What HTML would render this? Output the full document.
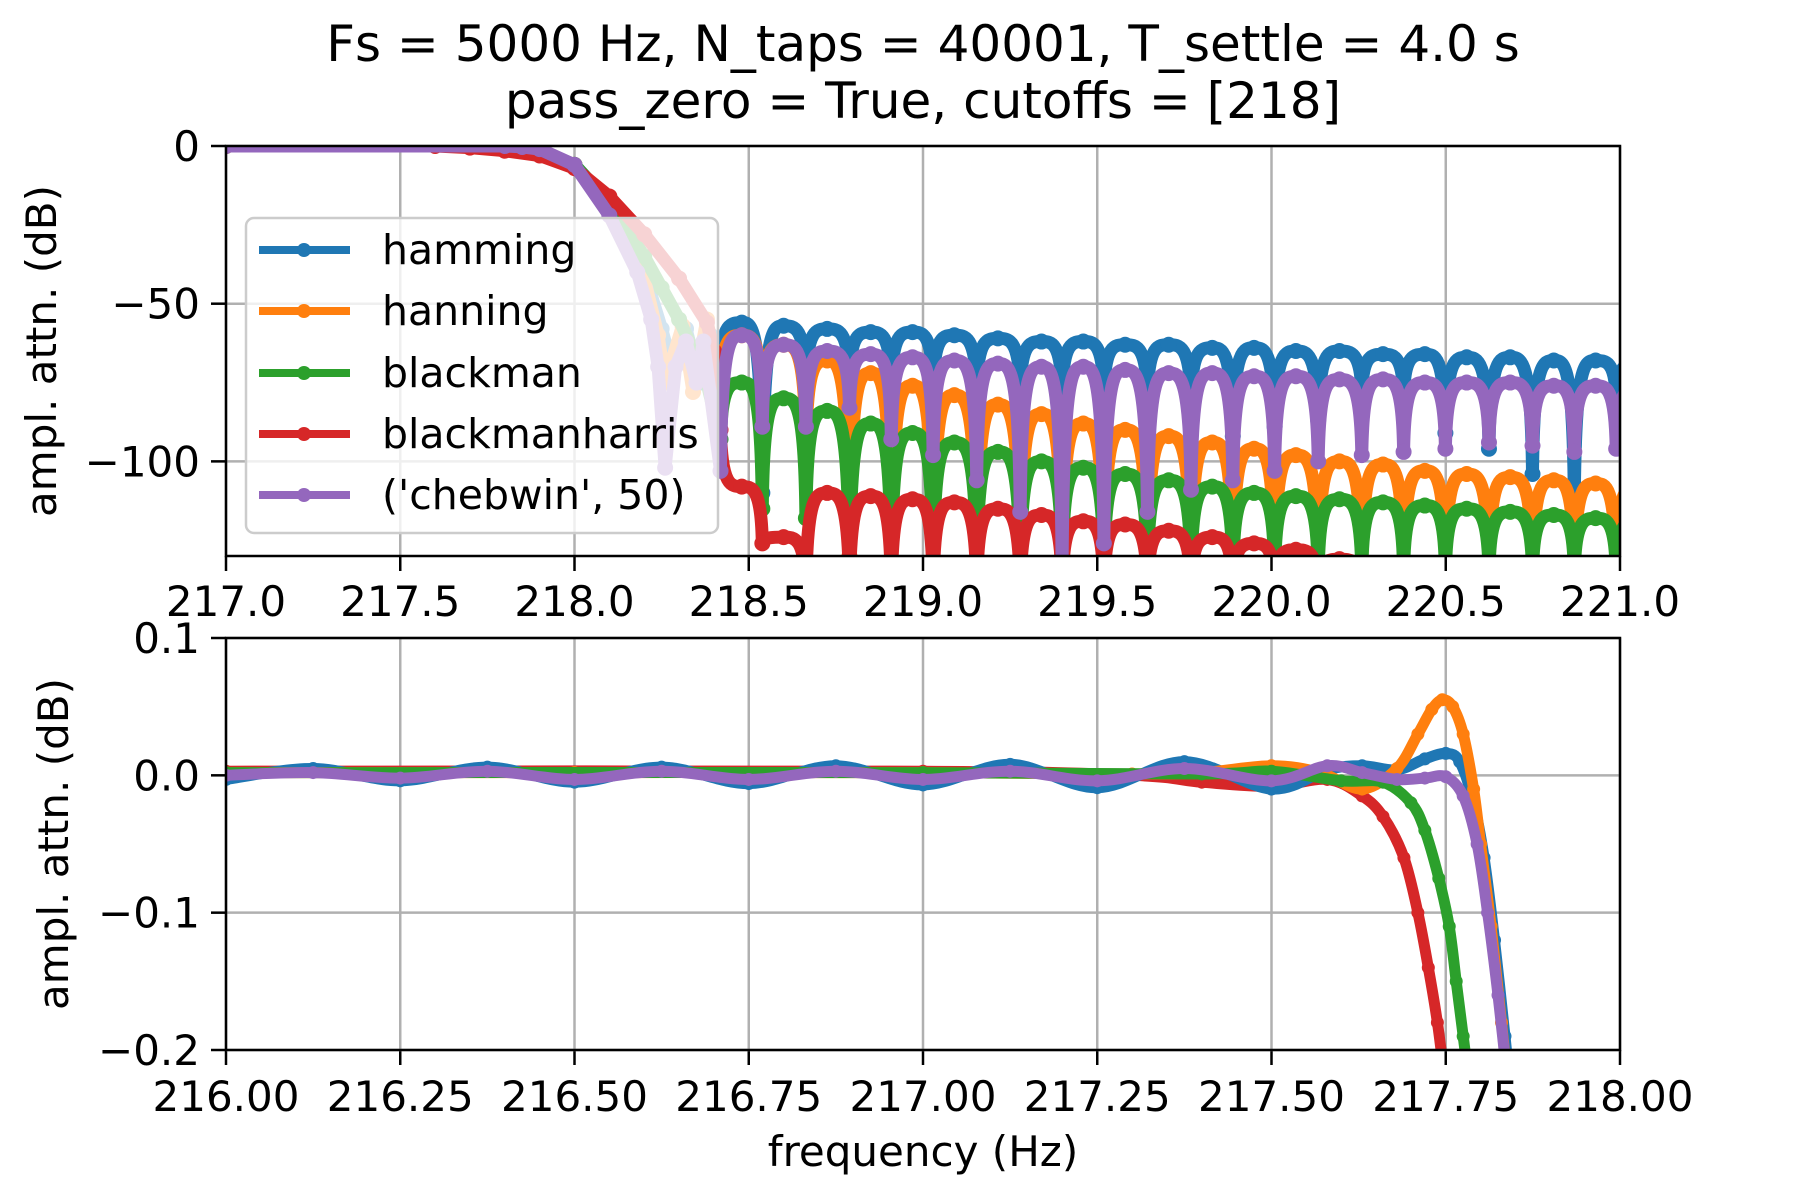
<!DOCTYPE html>
<html><head><meta charset="utf-8"><style>
html,body{margin:0;padding:0;background:#fff;}
svg{display:block;font-family:"DejaVu Sans","Liberation Sans",sans-serif;}
</style></head><body>
<svg id="fig" width="1800" height="1200" viewBox="0 0 1800 1200">
<defs>
<clipPath id="clipTop"><rect x="226" y="146" width="1394" height="410"/></clipPath>
<clipPath id="clipBot"><rect x="226" y="638" width="1394" height="412"/></clipPath>
</defs>
<text x="923" y="61" font-size="50" text-anchor="middle">Fs = 5000 Hz, N_taps = 40001, T_settle = 4.0 s</text>
<text x="923" y="118" font-size="50" text-anchor="middle">pass_zero = True, cutoffs = [218]</text>
<g id="top"></g>
<g id="bot"></g>
<text x="923" y="1166" font-size="42" text-anchor="middle">frequency (Hz)</text>
<text transform="translate(56,351) rotate(-90)" font-size="42" text-anchor="middle">ampl. attn. (dB)</text>
<text transform="translate(68,844) rotate(-90)" font-size="42" text-anchor="middle">ampl. attn. (dB)</text>
</svg>
<script>
// ---------- data ----------
const seriesNames = ["hamming","hanning","blackman","blackmanharris","('chebwin', 50)"];
const seriesColors = ["#1f77b4","#ff7f0e","#2ca02c","#d62728","#9467bd"];
const topXTicks = [217.0,217.5,218.0,218.5,219.0,219.5,220.0,220.5,221.0];
const topXTickLabels = ["217.0","217.5","218.0","218.5","219.0","219.5","220.0","220.5","221.0"];
const topYTicks = [0,-50,-100];
const topYTickLabels = ["0","\u221250","\u2212100"];
const botXTicks = [216.0,216.25,216.5,216.75,217.0,217.25,217.5,217.75,218.0];
const botXTickLabels = ["216.00","216.25","216.50","216.75","217.00","217.25","217.50","217.75","218.00"];
const botYTicks = [0.1,0.0,-0.1,-0.2];
const botYTickLabels = ["0.1","0.0","\u22120.1","\u22120.2"];

// transition band (freq, dB) per series
const transHammingX = [217.0,217.7,217.8,217.9,218.0,218.1,218.15,218.2,218.25,218.28,218.32,218.36,218.39];
const transHammingY = [0,0,-0.3,-1.5,-6,-18,-27,-40,-58,-70,-58,-75,-60];
const transHanningX = [217.0,217.7,217.8,217.9,218.0,218.1,218.2,218.24,218.26,218.31,218.34,218.38];
const transHanningY = [0,0,-0.2,-1.5,-6,-20,-42,-60,-75,-57,-78,-55];
const transBlackmanX = [217.0,217.7,217.8,217.9,218.0,218.1,218.2,218.25,218.3,218.35,218.38];
const transBlackmanY = [0,0,-0.3,-2,-6,-18,-35,-45,-55,-67,-75];
const transBHX = [217.0,217.6,217.7,217.8,217.9,218.0,218.1,218.2,218.3,218.38,218.4];
const transBHY = [0,0,-0.5,-1.5,-3,-7,-16,-28,-42,-56,-65];
const transChebX = [217.0,217.8,217.85,217.9,218.0,218.1,218.18,218.22,218.24,218.26,218.29,218.32,218.35,218.37];
const transChebY = [0,0,-0.3,-1,-6,-22,-40,-55,-70,-102,-70,-62,-75,-62];

// stopband sidelobe centres (Hz)
const lobeCenters = [218.48,218.60,218.725,218.85,218.97,219.09,219.215,219.34,219.46,219.58,219.705,219.83,219.95,220.07,220.195,220.32,220.44,220.56,220.685,220.81,220.93,221.05];
const peakHamming = [-56,-57,-58,-59,-59,-60,-61,-62,-62,-63,-63,-64,-64,-65,-65,-66,-66,-67,-67,-68,-68,-69];
const nullHamming = [-70,-110,-75,-74,-76,-76,-77,-77,-78,-78,-79,-80,-92,-89,-87,-78,-79,-91,-96,-104,-112,-80];
const peakHanning = [-60,-63,-68,-72,-76,-79,-82,-85,-88,-90,-92,-94,-96,-98,-100,-101,-103,-104,-105,-106,-107,-108];
const nullHanning = [-78,-85,-95,-130,-135,-135,-135,-135,-135,-135,-135,-135,-135,-135,-135,-135,-135,-135,-135,-135,-135,-135];
const peakBlackman = [-75,-80,-84,-88,-91,-94,-97,-100,-102,-104,-106,-108,-110,-111,-112,-113,-114,-115,-116,-117,-118,-119];
const nullBlackman = [-93,-115,-118,-135,-135,-135,-135,-135,-135,-135,-135,-135,-135,-135,-135,-135,-135,-135,-135,-135,-135,-135];
const peakBH = [-108,-124,-110,-111,-112,-113,-115,-117,-119,-120,-122,-124,-126,-128,-131,-133,-135,-137,-138,-139,-140,-141];
const nullBH = [-90,-126,-140,-140,-140,-140,-140,-140,-140,-140,-140,-140,-140,-140,-140,-140,-140,-140,-140,-140,-140,-140];
const peakCheb = [-60,-63,-65,-66,-67,-68,-69,-70,-70,-71,-72,-72,-73,-73,-74,-74,-75,-75,-75,-76,-76,-77];
const nullCheb = [-103,-89,-89,-83,-93,-98,-106,-116,-135,-126,-116,-109,-106,-103,-100,-98,-97,-96,-94,-95,-97,-96];

// passband detail (freq, dB)
const passHammingX = [216,216.125,216.25,216.375,216.5,216.625,216.75,216.875,217,217.125,217.25,217.375,217.5,217.58,217.63,217.68,217.72,217.75,217.77,217.79,217.805,217.82,217.835,217.845];
const passHammingY = [-0.003,0.005,-0.004,0.006,-0.005,0.006,-0.006,0.007,-0.007,0.008,-0.009,0.01,-0.01,0.004,0.007,0.004,0.012,0.016,0.01,-0.02,-0.06,-0.12,-0.19,-0.24];
const passHanningX = [216,216.5,217,217.3,217.4,217.5,217.57,217.63,217.68,217.71,217.73,217.745,217.76,217.775,217.79,217.8,217.815,217.83,217.84];
const passHanningY = [0.002,0.002,0.002,0.001,0.002,0.007,0.002,-0.01,0.005,0.03,0.048,0.055,0.05,0.03,-0.01,-0.05,-0.11,-0.18,-0.23];
const passBlackmanX = [216,217,217.4,217.5,217.6,217.66,217.7,217.72,217.74,217.755,217.765,217.775,217.785];
const passBlackmanY = [0.002,0.002,0.001,0.003,-0.004,-0.005,-0.02,-0.04,-0.075,-0.11,-0.15,-0.19,-0.23];
const passBHX = [216,217,217.3,217.4,217.5,217.58,217.63,217.66,217.69,217.71,217.725,217.738,217.748];
const passBHY = [0.003,0.003,0.0,-0.005,-0.008,-0.003,-0.015,-0.03,-0.06,-0.1,-0.14,-0.18,-0.22];
const passChebX = [216,216.125,216.25,216.375,216.5,216.625,216.75,216.875,217,217.125,217.25,217.375,217.5,217.58,217.63,217.68,217.72,217.75,217.775,217.795,217.81,217.825,217.84];
const passChebY = [0.0,0.002,-0.002,0.003,-0.003,0.003,-0.003,0.003,-0.003,0.003,-0.004,0.005,-0.004,0.007,0.002,-0.003,-0.002,-0.001,-0.015,-0.05,-0.1,-0.16,-0.23];

// ---------- drawing ----------
const NS = "http://www.w3.org/2000/svg";
const AX_L = 226, AX_R = 1620;
const topY0 = 146, topY1 = 556, botY0 = 638, botY1 = 1050;
function xTop(v){ return AX_L + (v-217)/4*(AX_R-AX_L); }
function yTop(v){ return topY0 + (0 - v)/130*(topY1-topY0); }
function xBot(v){ return AX_L + (v-216)/2*(AX_R-AX_L); }
function yBot(v){ return botY0 + (0.1 - v)/0.3*(botY1-botY0); }
function mk(tag, attrs, parent){
  const e = document.createElementNS(NS, tag);
  for (const k in attrs) e.setAttribute(k, attrs[k]);
  parent.appendChild(e); return e;
}
const gTop = document.getElementById('top');
const gBot = document.getElementById('bot');

function drawAxes(g, y0, y1, xt, xtl, xf, yt, ytl, yf, labelY, prefix){
  for (let i=0;i<xt.length;i++){
    const x = xf(xt[i]);
    const gl = mk('line',{x1:x,x2:x,y1:y0,y2:y1,stroke:'#b0b0b0','stroke-width':2.5},g);
    
    
    const tk = mk('line',{x1:x,x2:x,y1:y1,y2:y1+15,stroke:'#000','stroke-width':2.5},g);
    
    
    const t = mk('text',{x:x,y:labelY,'font-size':42,'text-anchor':'middle'},g);
    t.textContent = xtl[i];
    
    
  }
  for (let i=0;i<yt.length;i++){
    const y = yf(yt[i]);
    const gl = mk('line',{x1:AX_L,x2:AX_R,y1:y,y2:y,stroke:'#b0b0b0','stroke-width':2.5},g);
    
    
    const tk = mk('line',{x1:AX_L-15,x2:AX_L,y1:y,y2:y,stroke:'#000','stroke-width':2.5},g);
    
    
    const t = mk('text',{x:AX_L-26,y:y+15,'font-size':42,'text-anchor':'end'},g);
    t.textContent = ytl[i];
    
    
  }
}
drawAxes(gTop, topY0, topY1, topXTicks, topXTickLabels, xTop, topYTicks, topYTickLabels, yTop, 616, 'top-');
drawAxes(gBot, botY0, botY1, botXTicks, botXTickLabels, xBot, botYTicks, botYTickLabels, yBot, 1111, 'bottom-');

// top series
const trans = [[transHammingX,transHammingY],[transHanningX,transHanningY],[transBlackmanX,transBlackmanY],[transBHX,transBHY],[transChebX,transChebY]];
const peaks = [peakHamming,peakHanning,peakBlackman,peakBH,peakCheb];
const nulls = [nullHamming,nullHanning,nullBlackman,nullBH,nullCheb];
const topClip = mk('g',{'clip-path':'url(#clipTop)'},gTop);


for (let s=0;s<5;s++){
  const tx = trans[s][0], ty = trans[s][1];
  let d = '';
  const pts = [];
  for (let i=0;i<tx.length;i++){
    const X = xTop(tx[i]), Y = yTop(ty[i]);
    d += (i===0?'M':'L') + X.toFixed(1)+','+Y.toFixed(1)+' ';
    pts.push([X,Y]);
  }
  let prevPeak = null;
  for (let k=0;k<lobeCenters.length;k++){
    const nx = xTop(lobeCenters[k]-0.061), ny = yTop(nulls[s][k]);
    if (prevPeak){
      const dx = nx - prevPeak[0];
      d += 'C'+(prevPeak[0]+0.5*dx).toFixed(1)+','+prevPeak[1].toFixed(1)+' '+(nx-0.05*dx).toFixed(1)+','+prevPeak[1].toFixed(1)+' '+nx.toFixed(1)+','+ny.toFixed(1)+' ';
    } else {
      d += 'L'+nx.toFixed(1)+','+ny.toFixed(1)+' ';
    }
    pts.push([nx,ny]);
    const cx = xTop(lobeCenters[k]), cy = yTop(peaks[s][k]);
    const dx2 = cx - nx;
    d += 'C'+(nx+0.05*dx2).toFixed(1)+','+cy.toFixed(1)+' '+(nx+0.5*dx2).toFixed(1)+','+cy.toFixed(1)+' '+cx.toFixed(1)+','+cy.toFixed(1)+' ';
    pts.push([cx,cy]);
    prevPeak = [cx,cy];
  }
  const g = mk('g',{},topClip);
  
  
  mk('path',{d:d,fill:'none',stroke:seriesColors[s],'stroke-width':13,'stroke-linejoin':'round','stroke-linecap':'round'},g);
  for (const p of pts){
    const c = mk('circle',{cx:p[0],cy:p[1],r:8,fill:seriesColors[s]},g);
    
    
  }
}

// bottom series (Catmull-Rom smoothing)
const pass = [[passHammingX,passHammingY],[passHanningX,passHanningY],[passBlackmanX,passBlackmanY],[passBHX,passBHY],[passChebX,passChebY]];
const botClip = mk('g',{'clip-path':'url(#clipBot)'},gBot);


const order = [3,0,1,2,4];
for (const s of order){
  const xs = pass[s][0], ys = pass[s][1];
  const P = xs.map((v,i)=>[xBot(v), yBot(ys[i])]);
  let d = 'M'+P[0][0].toFixed(1)+','+P[0][1].toFixed(1)+' ';
  for (let i=0;i<P.length-1;i++){
    const p0 = P[Math.max(0,i-1)], p1 = P[i], p2 = P[i+1], p3 = P[Math.min(P.length-1,i+2)];
    const c1 = [p1[0]+(p2[0]-p0[0])/6, p1[1]+(p2[1]-p0[1])/6];
    const c2 = [p2[0]-(p3[0]-p1[0])/6, p2[1]-(p3[1]-p1[1])/6];
    d += 'C'+c1[0].toFixed(1)+','+c1[1].toFixed(1)+' '+c2[0].toFixed(1)+','+c2[1].toFixed(1)+' '+p2[0].toFixed(1)+','+p2[1].toFixed(1)+' ';
  }
  const g = mk('g',{},botClip);
  
  
  mk('path',{d:d,fill:'none',stroke:seriesColors[s],'stroke-width':11,'stroke-linejoin':'round'},g);
  for (const p of P){
    const c = mk('circle',{cx:p[0],cy:p[1],r:6.5,fill:seriesColors[s]},g);
    
    
  }
}

// spines
for (const [g,y0,y1,nm] of [[gTop,topY0,topY1,'top'],[gBot,botY0,botY1,'bottom']]){
  const r = mk('rect',{x:AX_L,y:y0,width:AX_R-AX_L,height:y1-y0,fill:'none',stroke:'#000','stroke-width':2.5},g);
  
  
}

// legend
const leg = mk('g',{},gTop);


mk('rect',{x:246,y:218,width:472,height:315,rx:8,fill:'rgba(255,255,255,0.8)',stroke:'#cccccc','stroke-width':2.5},leg);
const legY = [250,311,373,434,495];
for (let s=0;s<5;s++){
  const e = mk('g',{},leg);
  
  
  mk('line',{x1:259,x2:350,y1:legY[s],y2:legY[s],stroke:seriesColors[s],'stroke-width':8},e);
  mk('circle',{cx:304,cy:legY[s],r:7,fill:seriesColors[s]},e);
  const t = mk('text',{x:382,y:legY[s]+14,'font-size':41},e);
  t.textContent = seriesNames[s];
}
</script>
</body></html>
